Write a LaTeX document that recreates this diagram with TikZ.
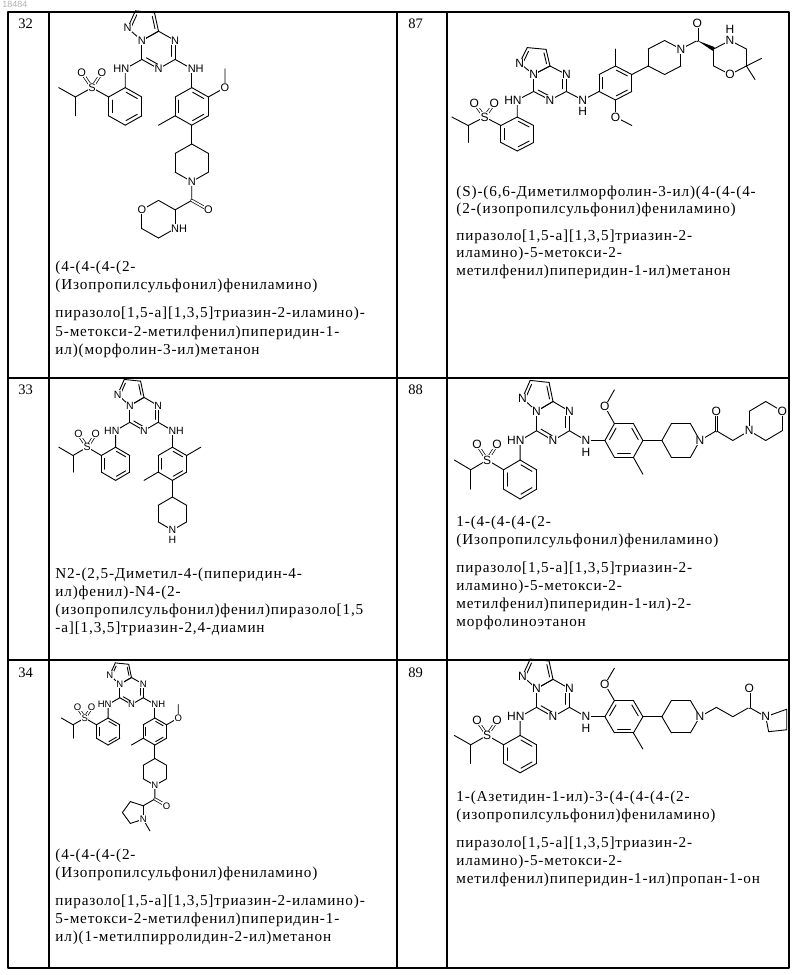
\documentclass[tikz,border=0pt]{standalone}
\usepackage{fontspec}
\setmainfont{Liberation Serif}
\newfontfamily\atomfont{Liberation Sans}
\newfontfamily\txtfont[LetterSpace=5.5]{Liberation Serif}
\usetikzlibrary{calc}
\newcount\atomcnt
\def\afs{11}
\newcommand\atm[3][]{\global\advance\atomcnt by 1\relax\node[atomlbl,#1] (atom\the\atomcnt) at (#2) {#3};}
\newcommand\polyring[5]{%
  \pgfmathsetmacro\dang{360/#1}%
  \foreach \k in {1,...,#1}{\draw ($(#2)+({#3+(\k-1)*\dang}:#4)$) -- ($(#2)+({#3+\k*\dang}:#4)$);}%
  \foreach \k in {#5}{\draw[shorten >=1pt,shorten <=1pt] ($(#2)+({#3+\k*\dang}:0.78*#4)$) -- ($(#2)+({#3+(\k+1)*\dang}:0.78*#4)$);}}
\newcommand\satring[4]{%
  \pgfmathsetmacro\dang{360/#1}%
  \foreach \k in {1,...,#1}{\draw ($(#2)+({#3+(\k-1)*\dang}:#4)$) -- ($(#2)+({#3+\k*\dang}:#4)$);}}
\newcommand\corepart{%
  \polyring{6}{0,0}{30}{1}{3,5}
  \polyring{5}{-0.777,1.346}{-96}{0.851}{1,3}
  \draw (-0.866,-0.5)--(-1.732,-1)--(-1.732,-2);
  \polyring{6}{-1.732,-3}{30}{1}{0,2,4}
  \draw (-2.598,-2.5)--(-3.464,-2)--(-4.33,-2.5)--(-5.196,-2);
  \draw (-4.33,-2.5)--(-4.33,-3.5);
  \draw[dbl] (-3.464,-2)--(-4.0,-1.2);
  \draw[dbl] (-3.464,-2)--(-2.95,-1.2);
  \draw (0.866,-0.5)--(1.732,-1);
  \atm{-0.866,0.5}{N}\atm{0.866,0.5}{N}\atm{0,-1}{N}\atm{-1.609,1.169}{N}
  \atm{-3.464,-2}{S}\atm{-4.0,-1.2}{O}\atm{-2.95,-1.2}{O}
  \atm[xshift={-0.36*\afs*1pt}]{-1.732,-1}{HN}}
\newcommand\tl[4]{\node[txt] (#1) at (#2,#3) {#4};}
\tikzset{
  atomlbl/.style={font=\atomfont\fontsize{\afs}{\afs}\selectfont, fill=white, inner sep=0.5pt},
  dbl/.style={double, double distance=1.7pt, line width=0.7pt},
  txt/.style={anchor=base west, inner sep=0pt, font=\txtfont\fontsize{15.2}{17}\selectfont},
  num/.style={anchor=base west, inner sep=0pt, font=\fontsize{14.5}{16}\selectfont},
  grid/.style={line width=1.1pt}
}
\begin{document}
\begin{tikzpicture}[x=1pt,y=-1pt,line width=0.9pt,line cap=round,line join=round]
\useasboundingbox (0,0) rectangle (800,975);
\fill[white] (0,0) rectangle (800,975);
\node[anchor=base west, inner sep=0pt, text=black!30, font=\atomfont\fontsize{9}{9}\selectfont] (pg) at (2,7) {18484};
% table
\draw[grid] (8,12) rectangle (789,968);
\draw[grid] (49,12)--(49,968);
\draw[grid] (397,12)--(397,968);
\draw[grid] (447,12)--(447,968);
\draw[grid] (8,378)--(789,378);
\draw[grid] (8,660)--(789,660);
\node[num] (n32) at (18,28) {32};
\node[num] (n87) at (408,28) {87};
\node[num] (n33) at (18,394) {33};
\node[num] (n88) at (408,394) {88};
\node[num] (n34) at (18,677) {34};
\node[num] (n89) at (408,677) {89};

% ---- 32
\begin{scope}[shift={(158.5,50)}, x={(19.2pt,0pt)}, y={(0pt,18.8pt)}]
\def\afs{11}
\corepart
\draw (1.732,-1)--(1.732,-2);
\polyring{6}{1.732,-3}{30}{1}{0,2,4}
\draw (2.598,-2.5)--(3.464,-2)--(3.464,-1);
\draw (0.866,-3.5)--(0,-4);
\draw (1.732,-4)--(1.732,-5);
\satring{6}{1.732,-6}{30}{1}
\draw (1.732,-7)--(1.732,-8)--(0.866,-8.5);
\draw[dbl] (1.732,-8)--(2.598,-8.5);
\satring{6}{0,-9}{30}{1}
\atm[xshift={0.36*\afs*1pt}]{1.732,-1}{NH}
\atm{3.464,-2}{O}\atm{1.732,-7}{N}\atm{2.598,-8.5}{O}\atm{-0.866,-8.5}{O}
\atm[xshift={0.36*\afs*1pt}]{0.866,-9.5}{NH}
\end{scope}

% ---- 33
\begin{scope}[shift={(144,414)}, x={(16.4pt,0pt)}, y={(0pt,16.6pt)}]
\def\afs{10.5}
\corepart
\draw (1.732,-1)--(1.732,-2);
\polyring{6}{1.732,-3}{30}{1}{0,2,4}
\draw (2.598,-2.5)--(3.464,-2);
\draw (0.866,-3.5)--(0,-4);
\draw (1.732,-4)--(1.732,-5);
\satring{6}{1.732,-6}{30}{1}
\atm[xshift={0.36*\afs*1pt}]{1.732,-1}{NH}
\atm{1.732,-7}{N}\atm[yshift={-0.95*\afs*1pt}]{1.732,-7}{H}
\end{scope}

% ---- 34
\begin{scope}[shift={(131.5,691)}, x={(13.5pt,0pt)}, y={(0pt,13.5pt)}]
\def\afs{9.5}
\corepart
\draw (1.732,-1)--(1.732,-2);
\polyring{6}{1.732,-3}{30}{1}{0,2,4}
\draw (2.598,-2.5)--(3.464,-2)--(3.464,-1);
\draw (0.866,-3.5)--(0,-4);
\draw (1.732,-4)--(1.732,-5);
\satring{6}{1.732,-6}{30}{1}
\draw (1.732,-7)--(1.732,-8)--(0.866,-8.5);
\draw[dbl] (1.732,-8)--(2.598,-8.5);
\satring{5}{0.178,-9.0}{36}{0.851}
\draw (0.866,-9.5)--(1.366,-10.366);
\atm[xshift={0.36*\afs*1pt}]{1.732,-1}{NH}
\atm{3.464,-2}{O}\atm{1.732,-7}{N}\atm{2.598,-8.5}{O}\atm{0.866,-9.5}{N}
\end{scope}

% ---- 87
\begin{scope}[shift={(550,83)}, x={(18.9pt,0pt)}, y={(0pt,17pt)}]
\def\afs{12}
\corepart
\draw (1.732,-1)--(2.598,-0.5);
\polyring{6}{3.464,0}{30}{1}{0,2,4}
\draw (3.464,1)--(3.464,2);
\draw (3.464,-1)--(3.464,-2)--(4.33,-2.5);
\draw (4.33,0.5)--(5.196,1.0);
\satring{6}{6.062,1.5}{30}{1}
\draw (6.928,2.0)--(7.794,2.5);
\draw[dbl] (7.794,2.5)--(7.794,3.5);
\fill (7.794,2.5) -- ($(8.66,2.0)+(1pt,1.8pt)$) -- ($(8.66,2.0)+(-1pt,-1.8pt)$) -- cycle;
\satring{6}{9.526,1.5}{30}{1}
\draw (10.392,1.0)--(11.2,1.45);
\draw (10.392,1.0)--(10.85,0.2);
\atm{1.732,-1}{N}\atm[yshift={-0.95*\afs*1pt}]{1.732,-1}{H}
\atm{3.464,-2}{O}\atm{6.928,2.0}{N}\atm{7.794,3.5}{O}
\atm{9.526,2.5}{N}\atm[yshift={0.95*\afs*1pt}]{9.526,2.5}{H}\atm{9.526,0.5}{O}
\end{scope}

% ---- 88
\begin{scope}[shift={(553,421)}, x={(19pt,0pt)}, y={(0pt,19.5pt)}]
\def\afs{12}
\corepart
\draw (1.732,-1)--(2.732,-1);
\polyring{6}{3.732,-1}{0}{1}{0,2,4}
\draw (3.232,-0.134)--(2.732,0.732)--(3.232,1.598);
\draw (4.232,-1.866)--(4.732,-2.732);
\draw (4.732,-1)--(5.732,-1);
\satring{6}{6.732,-1}{0}{1}
\draw (7.732,-1)--(8.598,-0.5)--(9.464,-1)--(10.33,-0.5);
\draw[dbl] (8.598,-0.5)--(8.598,0.5);
\satring{6}{11.196,0}{30}{1}
\atm{1.732,-1}{N}\atm[yshift={-0.95*\afs*1pt}]{1.732,-1}{H}
\atm{2.732,0.732}{O}\atm{7.732,-1}{N}\atm{8.598,0.5}{O}\atm{10.33,-0.5}{N}\atm{12.062,0.5}{O}
\end{scope}

% ---- 89
\begin{scope}[shift={(553,698)}, x={(19pt,0pt)}, y={(0pt,18.7pt)}]
\def\afs{12}
\corepart
\draw (1.732,-1)--(2.732,-1);
\polyring{6}{3.732,-1}{0}{1}{0,2,4}
\draw (3.232,-0.134)--(2.732,0.732)--(3.232,1.598);
\draw (4.232,-1.866)--(4.732,-2.732);
\draw (4.732,-1)--(5.732,-1);
\satring{6}{6.732,-1}{0}{1}
\draw (7.732,-1)--(8.598,-0.5)--(9.464,-1)--(10.33,-0.5)--(11.196,-1);
\draw[dbl] (10.33,-0.5)--(10.33,0.5);
\draw (11.196,-1)--(12.3,-0.6)--(12.3,-1.7)--(11.35,-1.8)--cycle;
\atm{1.732,-1}{N}\atm[yshift={-0.95*\afs*1pt}]{1.732,-1}{H}
\atm{2.732,0.732}{O}\atm{7.732,-1}{N}\atm{10.33,0.5}{O}\atm{11.196,-1}{N}
\end{scope}

% ---- texts
\tl{a1}{55}{271}{(4-(4-(4-(2-}
\tl{a2}{55}{289}{(Изопропилсульфонил)фениламино)}
\tl{a3}{55}{317}{пиразоло[1,5-а][1,3,5]триазин-2-иламино)-}
\tl{a4}{55}{336}{5-метокси-2-метилфенил)пиперидин-1-}
\tl{a5}{55}{354}{ил)(морфолин-3-ил)метанон}

\tl{b1}{456}{196}{(S)-(6,6-Диметилморфолин-3-ил)(4-(4-(4-}
\tl{b2}{456}{213}{(2-(изопропилсульфонил)фениламино)}
\tl{b3}{456}{240}{пиразоло[1,5-а][1,3,5]триазин-2-}
\tl{b4}{456}{257}{иламино)-5-метокси-2-}
\tl{b5}{456}{275}{метилфенил)пиперидин-1-ил)метанон}

\tl{c1}{55}{578}{N2-(2,5-Диметил-4-(пиперидин-4-}
\tl{c2}{55}{596}{ил)фенил)-N4-(2-}
\tl{c3}{55}{614}{(изопропилсульфонил)фенил)пиразоло[1,5}
\tl{c4}{55}{632}{-а][1,3,5]триазин-2,4-диамин}

\tl{d1}{456}{526}{1-(4-(4-(4-(2-}
\tl{d2}{456}{544}{(Изопропилсульфонил)фениламино)}
\tl{d3}{456}{572}{пиразоло[1,5-а][1,3,5]триазин-2-}
\tl{d4}{456}{590}{иламино)-5-метокси-2-}
\tl{d5}{456}{608}{метилфенил)пиперидин-1-ил)-2-}
\tl{d6}{456}{626}{морфолиноэтанон}

\tl{e1}{55}{859}{(4-(4-(4-(2-}
\tl{e2}{55}{877}{(Изопропилсульфонил)фениламино)}
\tl{e3}{55}{905}{пиразоло[1,5-а][1,3,5]триазин-2-иламино)-}
\tl{e4}{55}{923}{5-метокси-2-метилфенил)пиперидин-1-}
\tl{e5}{55}{941}{ил)(1-метилпирролидин-2-ил)метанон}

\tl{f1}{456}{801}{1-(Азетидин-1-ил)-3-(4-(4-(4-(2-}
\tl{f2}{456}{819}{(изопропилсульфонил)фениламино)}
\tl{f3}{456}{847}{пиразоло[1,5-а][1,3,5]триазин-2-}
\tl{f4}{456}{865}{иламино)-5-метокси-2-}
\tl{f5}{456}{883}{метилфенил)пиперидин-1-ил)пропан-1-он}
\end{tikzpicture}
\end{document}
